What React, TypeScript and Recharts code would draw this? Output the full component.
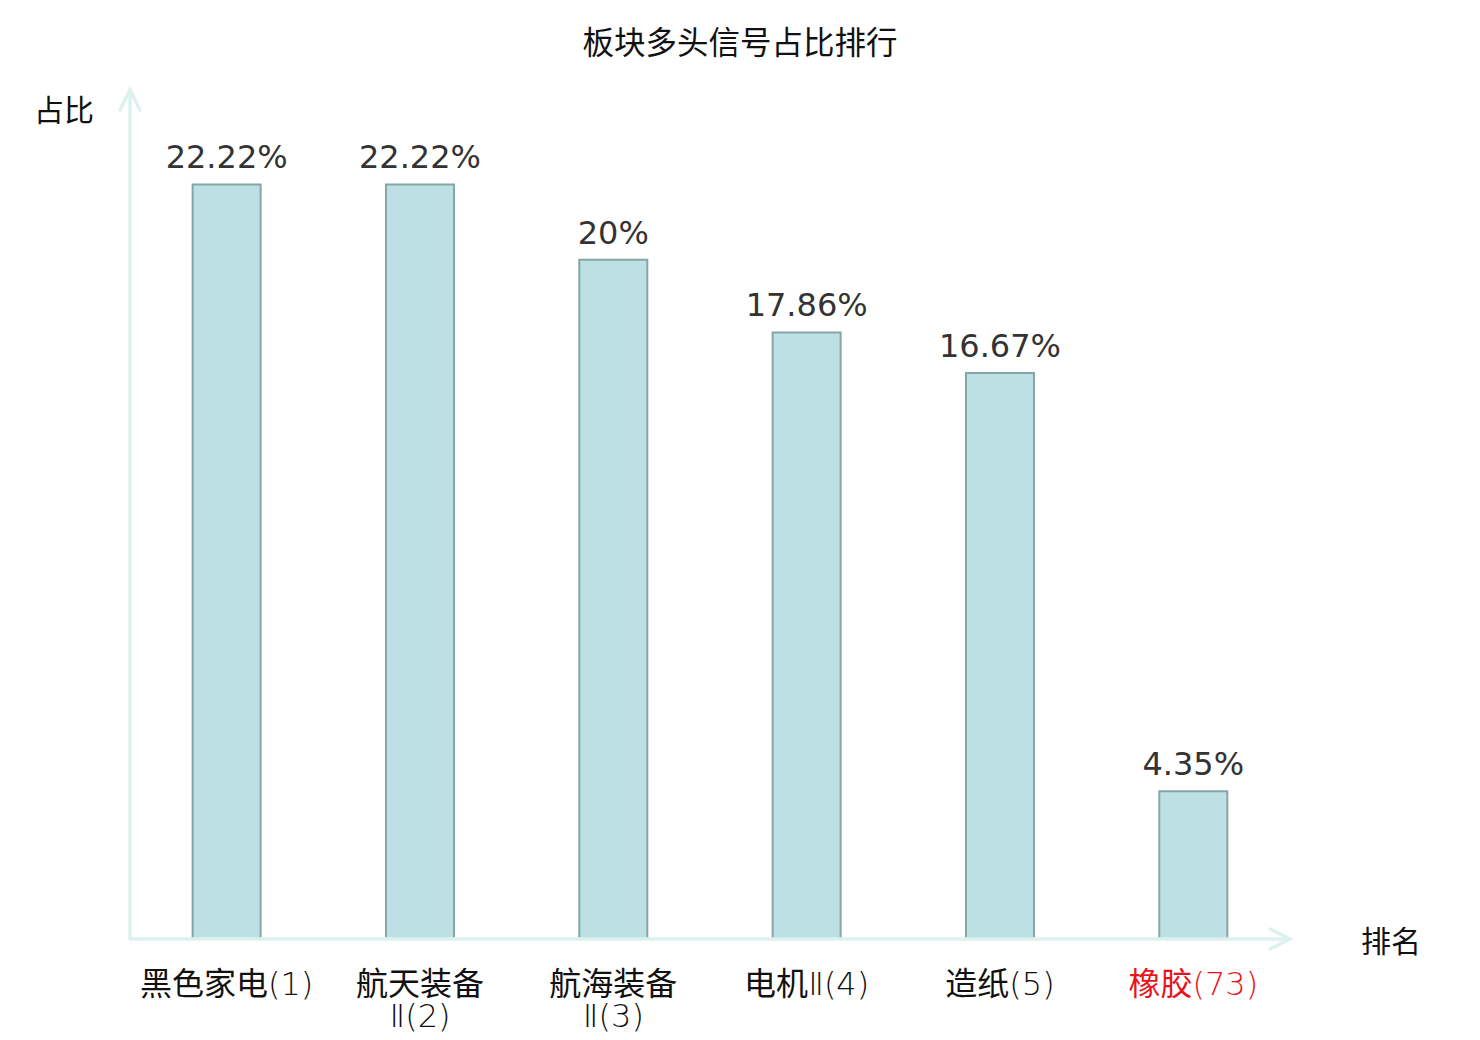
import { BarChart, Bar, XAxis, YAxis, LabelList } from "recharts";

const categories = ["黑色家电(1)", "航天装备Ⅱ(2)", "航海装备Ⅱ(3)", "电机Ⅱ(4)", "造纸(5)", "橡胶(73)"];
const ratios = [22.22, 22.22, 20, 17.86, 16.67, 4.35];
const highlighted = ["橡胶(73)"];

const W = 1480;
const H = 1040;
const margin = { top: 90, right: 190, bottom: 0, left: 130 };
const xAxisHeight = 101;
const axisColor = "#ddf2ef";
const font = "'DejaVu Sans', 'Noto Sans CJK SC', sans-serif";

const data = categories.map((name, i) => ({ name, value: ratios[i] }));

// 超过 7 个字符的分类名在第 4 个字后换行
function splitLabel(label: string): string[] {
  if (label.length > 7) return [label.slice(0, 4), label.slice(4)];
  return [label];
}

// 汉字用常规字重，其余字符（括号、数字、Ⅱ）用细体
function runs(line: string): { text: string; cjk: boolean }[] {
  const parts = line.match(/[\u4e00-\u9fff]+|[^\u4e00-\u9fff]+/g) || [];
  return parts.map((p) => ({ text: p, cjk: /[\u4e00-\u9fff]/.test(p) }));
}

function CategoryTick(props: any) {
  const { x, y, payload } = props;
  const lines = splitLabel(payload.value);
  const color = highlighted.includes(payload.value) ? "#e8141c" : "#111";
  return (
    <g transform={`translate(${x},${y})`}>
      {lines.map((line, i) => (
        <text key={i} x={0} y={i * 32} dy={48} textAnchor='middle' fill={color} fontSize={32} fontFamily={font}>
          {runs(line).map((r, j) => (
            <tspan key={j} fontWeight={r.cjk ? 400 : 200}>
              {r.text}
            </tspan>
          ))}
        </text>
      ))}
    </g>
  );
}

export default function App() {
  const left = margin.left;
  const bottom = H - margin.bottom - xAxisHeight;
  const right = W - margin.right;
  const top = margin.top;
  return (
    <div style={{ position: "absolute", left: 0, top: 0, width: W, height: H, background: "#fff" }}>
      <BarChart width={W} height={H} data={data} margin={margin} barCategoryGap='32.4%'>
        <XAxis
          dataKey='name'
          height={xAxisHeight}
          axisLine={false}
          tickLine={false}
          interval={0}
          tick={<CategoryTick />}
        />
        <YAxis hide domain={[0, 25]} />
        <Bar dataKey='value' fill='#bce0e3' stroke='#86a6a6' strokeWidth={2} isAnimationActive={false}>
          <LabelList
            dataKey='value'
            position='top'
            offset={16}
            formatter={(v: any) => `${v}%`}
            fill='#333'
            fontSize={32}
            fontFamily={font}
          />
        </Bar>
      </BarChart>
      <svg width={W} height={H} style={{ position: "absolute", left: 0, top: 0, pointerEvents: "none" }}>
        <g stroke={axisColor} strokeWidth={3.5} fill='none' strokeLinecap='round'>
          <line x1={left} y1={bottom} x2={left} y2={top} />
          <polyline points={`${left - 10},${top + 20} ${left},${top} ${left + 10},${top + 20}`} />
          <line x1={left} y1={bottom} x2={right} y2={bottom} />
          <polyline points={`${right - 20},${bottom - 10} ${right},${bottom} ${right - 20},${bottom + 10}`} />
        </g>
        <text x={W / 2} y={54} textAnchor='middle' fontSize={31.5} fontFamily={font} fill='#111'>
          板块多头信号占比排行
        </text>
        <text x={34} y={121} fontSize={30} fontFamily={font} fill='#111'>
          占比
        </text>
        <text x={1361} y={952} fontSize={30} fontFamily={font} fill='#111'>
          排名
        </text>
      </svg>
    </div>
  );
}
